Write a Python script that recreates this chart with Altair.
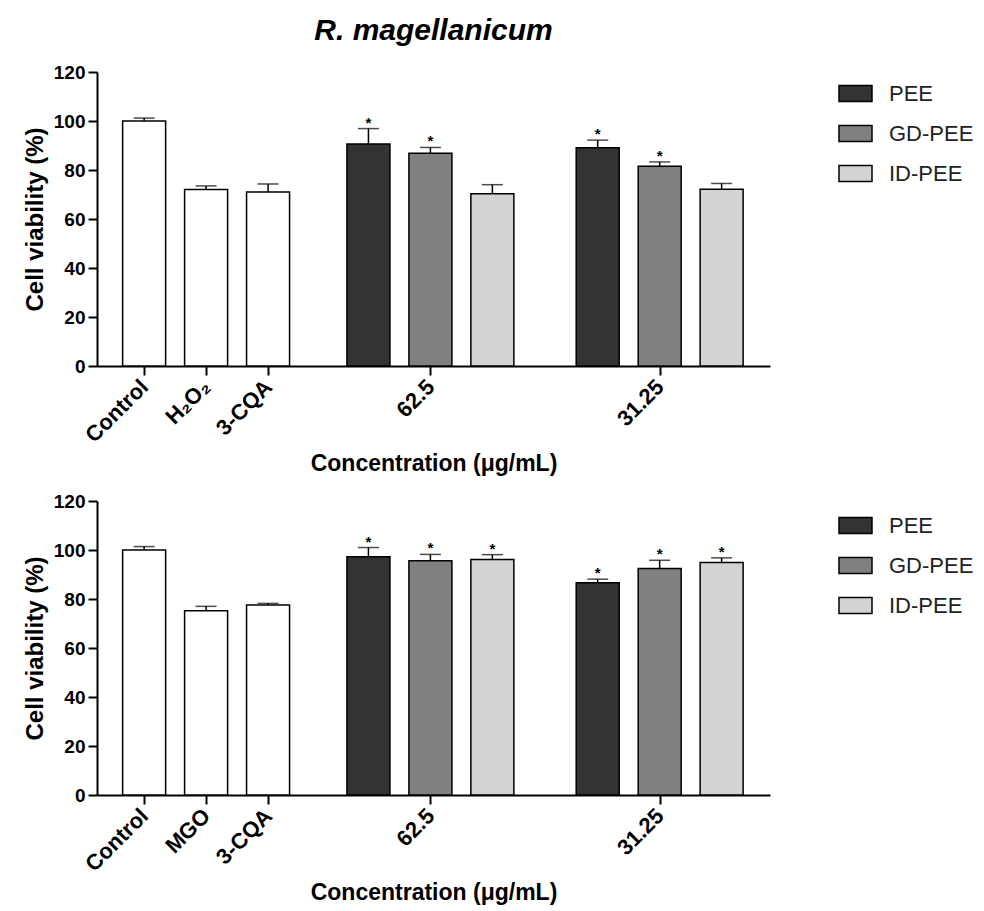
import altair as alt
import pandas as pd

# ---------------- data ----------------
chart_title = "R. magellanicum"
x_title = "Concentration (μg/mL)"
y_title = "Cell viability (%)"

series = ["PEE", "GD-PEE", "ID-PEE"]
series_colors = ["#333333", "#808080", "#d3d3d3"]
concentrations = ["62.5", "31.25"]

# top panel (H2O2)
top_ctrl_labels = ["Control", "H\u2082O\u2082", "3-CQA"]
top_ctrl_values = [100.0, 72.0, 71.0]
top_ctrl_errors = [1.2, 1.5, 3.3]
top_pee = [90.6, 89.1]
top_pee_err = [6.3, 3.1]
top_gd = [86.8, 81.5]
top_gd_err = [2.4, 1.8]
top_id = [70.3, 72.1]
top_id_err = [3.7, 2.4]
top_pee_sig = [True, True]
top_gd_sig = [True, True]
top_id_sig = [False, False]

# bottom panel (MGO)
bot_ctrl_labels = ["Control", "MGO", "3-CQA"]
bot_ctrl_values = [100.0, 75.2, 77.6]
bot_ctrl_errors = [1.4, 1.8, 0.6]
bot_pee = [97.2, 86.6]
bot_pee_err = [3.8, 1.5]
bot_gd = [95.6, 92.4]
bot_gd_err = [2.6, 3.4]
bot_id = [96.1, 94.9]
bot_id_err = [2.0, 1.9]
bot_pee_sig = [True, True]
bot_gd_sig = [True, True]
bot_id_sig = [True, True]

# ---------------- layout constants ----------------
CTRL_START = 0.68
GROUP_CENTERS = [5.3, 9.0]
X_MAX = 10.7
PLOT_W = 673
PLOT_H = 294
BAR_W = 43
FONT = "Liberation Sans"


def build_frame(ctrl_labels, ctrl_values, ctrl_errors, vals, errs, sigs):
    rows = []
    for i, (lab, v, e) in enumerate(zip(ctrl_labels, ctrl_values, ctrl_errors)):
        rows.append(dict(x=round(CTRL_START + i, 2), value=v, top=v + e,
                         kind="ctrl", label=lab, star=False))
    for gi, conc in enumerate(concentrations):
        for si, s in enumerate(series):
            v = vals[si][gi]
            e = errs[si][gi]
            rows.append(dict(x=round(GROUP_CENTERS[gi] + (si - 1), 2), value=v,
                             top=v + e, kind=s, label=conc, star=sigs[si][gi]))
    return pd.DataFrame(rows)


def label_expr(ctrl_labels):
    ticks = [(round(CTRL_START + i, 2), lab) for i, lab in enumerate(ctrl_labels)]
    ticks += [(GROUP_CENTERS[gi], c) for gi, c in enumerate(concentrations)]
    expr = "''"
    for pos, lab in reversed(ticks):
        expr = f"datum.value < {pos + 0.5} ? '{lab}' : ({expr})"
    return expr, [t[0] for t in ticks]


def panel(df, ctrl_labels, legend_y, title=None):
    expr, tick_vals = label_expr(ctrl_labels)
    xscale = alt.Scale(domain=[0, X_MAX], nice=False, zero=False)
    yscale = alt.Scale(domain=[0, 120], nice=False)
    x_enc = alt.X("x:Q", scale=xscale,
                  axis=alt.Axis(values=tick_vals, labelExpr=expr, title=x_title,
                                labelOverlap=False))
    y_axis = alt.Axis(values=[0, 20, 40, 60, 80, 100, 120], title=y_title)

    base = alt.Chart(df)
    ctrl_bars = base.transform_filter("datum.kind == 'ctrl'").mark_bar(
        size=BAR_W, fill="white", stroke="black", strokeWidth=1.5
    ).encode(x=x_enc, y=alt.Y("value:Q", scale=yscale, axis=y_axis))

    ser_bars = base.transform_filter("datum.kind != 'ctrl'").mark_bar(
        size=BAR_W, stroke="black", strokeWidth=1.5
    ).encode(
        x=x_enc,
        y=alt.Y("value:Q", scale=yscale, axis=y_axis),
        fill=alt.Fill("kind:N", scale=alt.Scale(domain=series, range=series_colors),
                      legend=alt.Legend(
                          title=None, orient="none", legendX=741, legendY=legend_y,
                          symbolType="M-1,-0.485L1,-0.485L1,0.485L-1,0.485Z",
                          symbolSize=1089, symbolStrokeColor="black",
                          symbolStrokeWidth=1.5, symbolOpacity=1,
                          labelFontSize=22, labelFont=FONT, labelColor="#222222",
                          labelOffset=16, rowPadding=11)),
    )

    err = base.mark_rule(color="black", strokeWidth=1.5).encode(
        x=x_enc, y=alt.Y("value:Q", scale=yscale, axis=y_axis), y2="top:Q")
    cap = base.mark_tick(orient="horizontal", size=21, thickness=1.5, color="black").encode(
        x=x_enc, y=alt.Y("top:Q", scale=yscale, axis=y_axis))
    star = base.transform_filter("datum.star").mark_text(
        text="*", fontSize=15, fontWeight="bold", font=FONT, color="black",
        baseline="alphabetic", dy=-1
    ).encode(x=x_enc, y=alt.Y("top:Q", scale=yscale, axis=y_axis))

    layer = alt.layer(ctrl_bars, ser_bars, err, cap, star)
    props = dict(width=PLOT_W, height=PLOT_H)
    if title is not None:
        props["title"] = alt.TitleParams(title, fontSize=30, fontStyle="italic",
                                         fontWeight="bold", font=FONT, anchor="middle",
                                         frame="group", offset=17, color="black")
    return layer.properties(**props)


top_df = build_frame(top_ctrl_labels, top_ctrl_values, top_ctrl_errors,
                     [top_pee, top_gd, top_id], [top_pee_err, top_gd_err, top_id_err],
                     [top_pee_sig, top_gd_sig, top_id_sig])
bot_df = build_frame(bot_ctrl_labels, bot_ctrl_values, bot_ctrl_errors,
                     [bot_pee, bot_gd, bot_id], [bot_pee_err, bot_gd_err, bot_id_err],
                     [bot_pee_sig, bot_gd_sig, bot_id_sig])

chart = alt.vconcat(
    panel(top_df, top_ctrl_labels, 4, chart_title),
    panel(bot_df, bot_ctrl_labels, 7),
    spacing=16,
).resolve_legend(fill="independent").resolve_scale(fill="independent").properties(
    padding={"left": 15, "top": 8, "right": 0, "bottom": 2}
).configure(
    font=FONT
).configure_view(stroke=None).configure_axis(
    grid=False, domainColor="black", domainWidth=2, tickColor="black", tickWidth=2,
    tickSize=9, labelFont=FONT, labelFontWeight="bold", labelColor="black",
    titleFont=FONT, titleFontWeight="bold", titleColor="black"
).configure_axisX(
    labelAngle=-45, labelAlign="right", labelBaseline="middle", labelFontSize=22,
    labelPadding=8, titleFontSize=23, titlePadding=6
).configure_axisY(
    labelFontSize=19, labelPadding=3, titleFontSize=24, titlePadding=6
)

chart.save("out.html", embed_options={"renderer": "svg", "actions": False})
